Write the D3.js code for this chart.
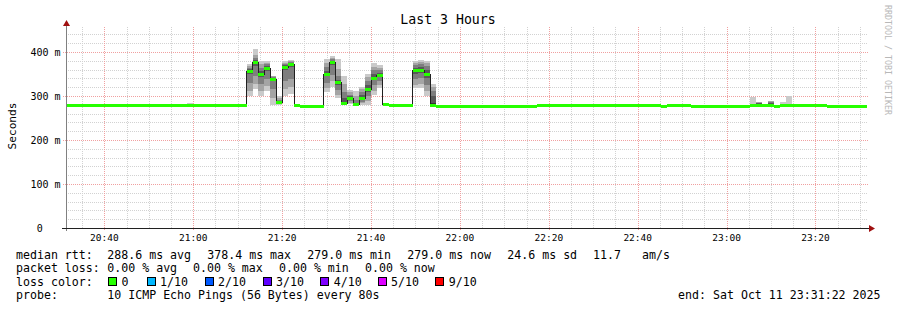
<!DOCTYPE html>
<html><head><meta charset="utf-8">
<script src="https://cdn.jsdelivr.net/npm/d3@7"></script>
<style>
body{margin:0;background:#fff}
svg text{font-family:"DejaVu Sans Mono",monospace;white-space:pre}
</style>
</head><body>
<svg id="c" width="897" height="310"></svg>
<script>
// ---------- data ----------
const title = "Last 3 Hours";
const yAxisTitle = "Seconds";
const startTime = "20:31:22";
const endTime = "23:31:22";
const firstStep = "20:30:40";
const stepSeconds = 80;

const median = [
  279,279,279,279,279,279,279,279,279,279,
  279,279,279,279,279,279,279,279,279,279,
  279,279,279,279,279,279,279,279,279,279,
  279,357,377,351,364,339,287,367,373,279,
  278,278,278,278,351,377,331,285,295,281,
  296,315,342,348,282,279,279,279,279,358,
  358,350,279,278,278,278,278,278,278,278,
  278,278,278,278,278,278,278,278,278,278,
  280,280,280,280,280,280,280,280,280,280,
  280,280,280,280,280,280,280,280,280,280,
  280,277,280,280,280,280,278,278,278,278,
  278,278,278,278,278,278,280,280,280,280,
  277,280,280,280,280,280,280,280,280,278,
  278,278,278,278,278,278
];

const smokeSteps = [21,31,32,33,34,35,36,37,38,44,45,46,47,48,49,50,51,52,53,59,60,61,62,116,117,119,121,122];
const smokePings = [
  [279,279,279,279,279,279,279,279,280,283],
  [300,312,330,350,356,358,361,364,368,372],
  [316,327,345,368,376,378,381,386,394,407],
  [300,312,328,343,350,352,356,363,372,379],
  [312,322,338,356,363,365,368,372,376,379],
  [279,295,315,333,338,339,341,343,345,346],
  [280,282,284,285,286,288,289,292,296,300],
  [300,315,335,360,366,368,370,373,376,379],
  [305,320,338,365,372,373,375,377,379,381],
  [310,318,330,345,350,353,357,365,375,383],
  [321,333,348,370,376,378,380,383,387,391],
  [296,303,314,325,330,332,337,346,362,383],
  [279,280,281,283,284,286,295,310,328,345],
  [282,285,288,291,294,296,299,303,308,314],
  [279,279,280,280,281,282,285,290,300,312],
  [280,283,287,292,295,297,302,308,315,321],
  [280,288,300,308,313,317,325,335,343,349],
  [302,312,324,336,341,344,350,358,366,374],
  [318,326,335,343,347,349,353,358,364,370],
  [318,326,338,350,356,359,364,370,375,380],
  [318,328,340,352,356,359,365,372,378,382],
  [300,312,326,342,348,352,360,368,374,380],
  [279,279,279,279,279,283,300,312,320,327],
  [279,279,279,279,279,279,279,280,281,298],
  [279,279,279,279,280,281,283,285,286,286],
  [279,279,279,279,280,282,285,287,289,289],
  [279,279,279,279,279,280,280,281,282,286],
  [279,279,279,279,279,279,280,281,282,300]
];

const yTicks = [0,100,200,300,400];
const yTickLabels = ["0","100 m","200 m","300 m","400 m"];
const xTickLabels = ["20:40","21:00","21:20","21:40","22:00","22:20","22:40","23:00","23:20"];

const rttLabel = "median rtt:";
const rttStats = ["288.6 ms avg","378.4 ms max","279.0 ms min","279.0 ms now","24.6 ms sd","11.7","am/s"];
const lossLabel = "packet loss:";
const lossStats = ["0.00 % avg","0.00 % max","0.00 % min","0.00 % now"];
const lossColorLabel = "loss color:";
const lossLevels = ["0","1/10","2/10","3/10","4/10","5/10","9/10"];
const lossColors = ["#26ff00","#00b8ff","#0059ff","#5e00ff","#7e00ff","#dd00ff","#ff0000"];
const probeLabel = "probe:";
const probeText = "10 ICMP Echo Pings (56 Bytes) every 80s";
const endText = "end: Sat Oct 11 23:31:22 2025";
const watermark = "RRDTOOL / TOBI OETIKER";

// ---------- layout ----------
const L = 66, R = 866, B = 228, T = 27;
const toSec = s => { const p = s.split(":").map(Number); return p[0]*3600 + p[1]*60 + (p[2]||0); };
const t0 = toSec(startTime), t1 = toSec(endTime), tf = toSec(firstStep);
const x = d3.scaleLinear().domain([t0, t1]).range([L, R]);
const y = d3.scaleLinear().domain([0, 400]).range([B, 52]);
const yMax = y.invert(T);

const svg = d3.select("#c");
svg.append("rect").attr("width",897).attr("height",310).attr("fill","#fff");

svg.append("defs").append("clipPath").attr("id","plot")
  .append("rect").attr("x",L+1).attr("y",T).attr("width",R-L).attr("height",B-T);

// ---------- grid ----------
const grid = svg.append("g").attr("shape-rendering","crispEdges");
const minorX = d3.range(Math.ceil(t0/300)*300, t1+1, 300).filter(t => t % 1200 !== 0);
const majorX = d3.range(Math.ceil(t0/1200)*1200, t1+1, 1200);
const minorY = d3.range(20, yMax, 20).filter(v => v % 100 !== 0);
const majorY = d3.range(100, yMax, 100);

grid.selectAll(".mx").data(minorX).join("line")
  .attr("x1",d=>Math.round(x(d))+0.5).attr("x2",d=>Math.round(x(d))+0.5)
  .attr("y1",T).attr("y2",B).attr("stroke","#d2d2d2").attr("stroke-dasharray","1,1");
grid.selectAll(".my").data(minorY).join("line")
  .attr("x1",L).attr("x2",R+2).attr("y1",d=>Math.round(y(d))+0.5).attr("y2",d=>Math.round(y(d))+0.5)
  .attr("stroke","#d2d2d2").attr("stroke-dasharray","1,1");
grid.selectAll(".Mx").data(majorX).join("line")
  .attr("x1",d=>Math.round(x(d))+0.5).attr("x2",d=>Math.round(x(d))+0.5)
  .attr("y1",T).attr("y2",B+3).attr("stroke","#f0a0a0").attr("stroke-dasharray","1,1");
grid.selectAll(".My").data(majorY).join("line")
  .attr("x1",L-3).attr("x2",R+2).attr("y1",d=>Math.round(y(d))+0.5).attr("y2",d=>Math.round(y(d))+0.5)
  .attr("stroke","#f0a0a0").attr("stroke-dasharray","1,1");

// ---------- smoke ----------
const plot = svg.append("g").attr("clip-path","url(#plot)").attr("shape-rendering","crispEdges");
const smokeShades = ["#cacaca","#a4a4a4","#7e7e7e","#585858","#323232"];
smokeSteps.forEach((si, k) => {
  const p = smokePings[k];
  const xa = x(tf + si*stepSeconds), xb = x(tf + (si+1)*stepSeconds);
  for (let j = 0; j < 5; j++) {
    const lo = p[j], hi = p[9-j];
    if (hi - lo <= 0) continue;
    plot.append("rect").attr("x",xa).attr("width",xb-xa)
      .attr("y",y(hi)).attr("height",y(lo)-y(hi)).attr("fill",smokeShades[j]);
  }
});

// median dark step line
const medPts = median.map((v,i)=>[tf+i*stepSeconds, v]);
medPts.push([tf+median.length*stepSeconds, median[median.length-1]]);
plot.append("path").datum(medPts)
  .attr("d", d3.line().x(d=>x(d[0])).y(d=>Math.round(y(d[1]))+0.5).curve(d3.curveStepAfter))
  .attr("fill","none").attr("stroke","#202020").attr("stroke-width",1);

// median loss-colour band
plot.selectAll(".med").data(median).join("rect")
  .attr("x",(d,i)=>x(tf+i*stepSeconds)).attr("width",(d,i)=>x(tf+(i+1)*stepSeconds)-x(tf+i*stepSeconds))
  .attr("y",d=>Math.round(y(d))-1.5).attr("height",3).attr("fill",lossColors[0]);

// ---------- axes ----------
const ax = svg.append("g").attr("shape-rendering","crispEdges");
ax.append("line").attr("x1",L+0.5).attr("x2",L+0.5).attr("y1",B+3).attr("y2",T-4).attr("stroke","#808080");
ax.append("line").attr("x1",L-4).attr("x2",R+4).attr("y1",B+0.5).attr("y2",B+0.5).attr("stroke","#202020");
svg.append("path").attr("d",`M${L-3},${T-1}L${L+0.5},${T-7}L${L+4},${T-1}Z`).attr("fill","#a01010");
svg.append("path").attr("d",`M${R+3},${B-3}L${R+9},${B+0.5}L${R+3},${B+4}Z`).attr("fill","#a01010");

// x labels
svg.selectAll(".xl").data(majorX).join("text")
  .attr("x",d=>x(d)).attr("y",240.5).attr("text-anchor","middle")
  .attr("font-size","9.5px").attr("fill","#000")
  .text((d,i)=>xTickLabels[i]);
// y labels
svg.selectAll(".yl").data(yTicks).join("text")
  .attr("x",(d,i)=> yTickLabels[i].includes(" ") ? 60.5 : 42.7)
  .attr("y",d=>y(d)+3.5).attr("text-anchor","end")
  .attr("font-size","10px").attr("fill","#000")
  .text((d,i)=>yTickLabels[i]);

// titles
svg.append("text").attr("x",448).attr("y",23.5).attr("text-anchor","middle")
  .attr("font-size","13.2px").attr("fill","#000").text(title);
svg.append("text").attr("transform","translate(15.5,126) rotate(-90)").attr("text-anchor","middle")
  .attr("font-size","11.2px").attr("fill","#000").text(yAxisTitle);
svg.append("text").attr("transform","translate(884.5,5) rotate(90)").attr("text-anchor","start")
  .attr("font-size","8.3px").attr("fill","#b8b8b8").text(watermark);

// ---------- legend ----------
const fs = "11.6px";
const leg = svg.append("g").attr("font-size",fs).attr("fill","#000");
const row1 = 258.5, row2 = 272, row3 = 285.5, row4 = 299;
leg.append("text").attr("x",16).attr("y",row1).text(rttLabel);
const rttX = [107.3,207.3,307.3,407.3,507.3,593,642];
leg.selectAll(".r1").data(rttStats).join("text").attr("x",(d,i)=>rttX[i]).attr("y",row1).text(d=>d);
leg.append("text").attr("x",16).attr("y",row2).text(lossLabel);
const lossX = [107.3,193,279,365];
leg.selectAll(".r2").data(lossStats).join("text").attr("x",(d,i)=>lossX[i]).attr("y",row2).text(d=>d);
leg.append("text").attr("x",16).attr("y",row3).text(lossColorLabel);
const boxX = [108,146.5,204.5,262.5,320.3,377.5,435.3];
leg.selectAll(".bx").data(lossLevels).join("rect")
  .attr("x",(d,i)=>boxX[i]+0.5).attr("y",277.5).attr("width",8).attr("height",8)
  .attr("fill",(d,i)=>lossColors[i]).attr("stroke","#000").attr("stroke-width",1)
  .attr("shape-rendering","crispEdges");
leg.selectAll(".bl").data(lossLevels).join("text")
  .attr("x",(d,i)=>boxX[i]+13.5).attr("y",row3).text(d=>d);
leg.append("text").attr("x",16).attr("y",row4).text(probeLabel);
leg.append("text").attr("x",107.3).attr("y",row4).text(probeText);
leg.append("text").attr("x",880.5).attr("y",row4).attr("text-anchor","end").text(endText);
</script>
</body></html>
